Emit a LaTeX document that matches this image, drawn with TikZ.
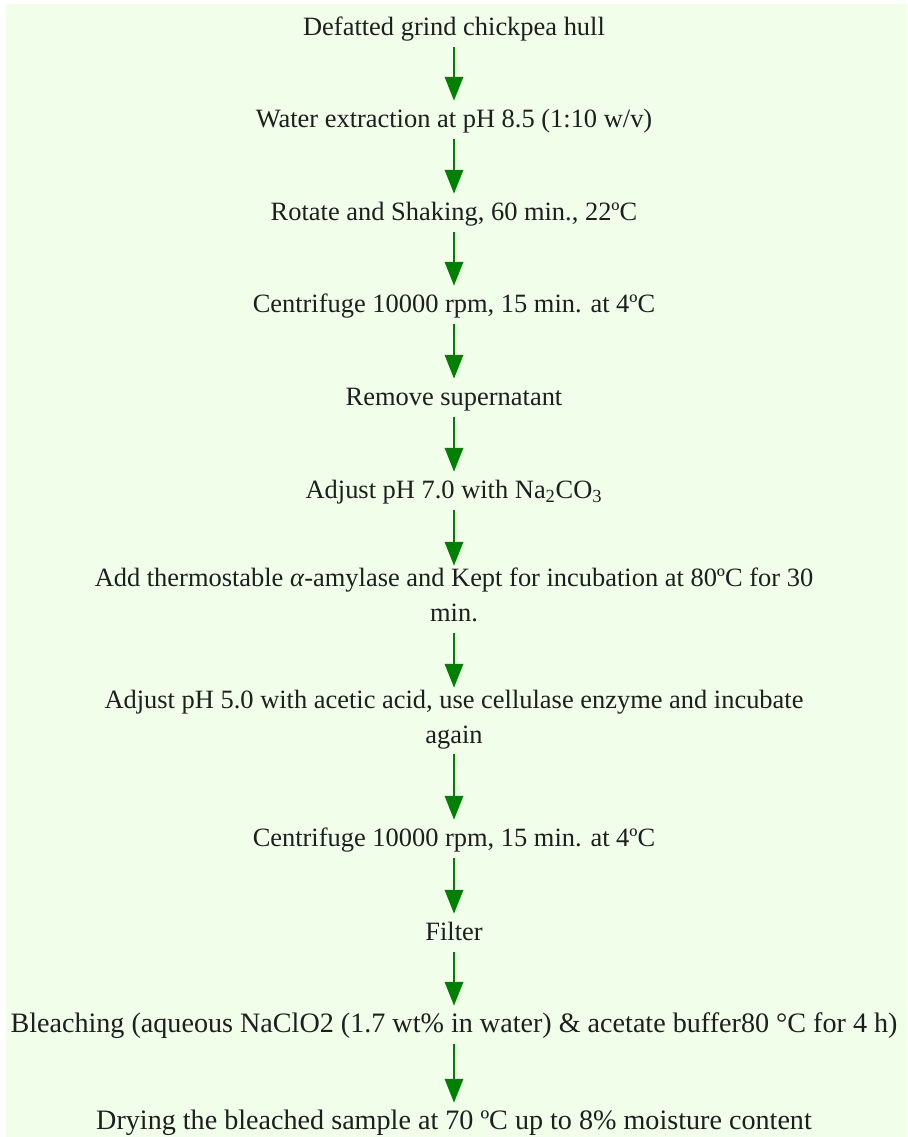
\documentclass[tikz,border=0pt]{standalone}
\usepackage{fontspec}
\setmainfont{Liberation Serif}
\usepackage{tikz}
\usetikzlibrary{arrows.meta,positioning}
\definecolor{bggreen}{RGB}{240,254,234}
\definecolor{flowgreen}{RGB}{0,128,0}
\definecolor{txtgray}{RGB}{30,30,30}

\begin{document}
\begin{tikzpicture}[x=0.025cm,y=-0.025cm,
    stepnode/.style={anchor=north, inner sep=0pt, align=center, text=txtgray,
      font=\fontsize{18.8}{24.9}\selectfont,
      execute at begin node=\strut, execute at end node=\strut},
    bigstep/.style={stepnode, font=\fontsize{20}{24.9}\selectfont},
    flow/.style={draw=flowgreen, line width=2.1pt,
      -{Triangle[width=12.8pt,length=17pt]}, flowgreen,
      shorten <=0.4pt, shorten >=1.2pt}]
  \useasboundingbox (0,0) rectangle (907,1137);
  \fill[bggreen] (6,4) rectangle (907,1137);

  \node[stepnode] (s1) at (454,10.5) {Defatted grind chickpea hull};
  \node[stepnode] (s2) at (454,102.5) {Water extraction at pH 8.5 (1:10 w/v)};
  \node[stepnode] (s3) at (454,195.5) {Rotate and Shaking, 60 min., 22ºC};
  \node[stepnode] (s4) at (454,287.5) {Centrifuge 10000 rpm, 15 min. at 4ºC};
  \node[stepnode] (s5) at (454,380.5) {Remove supernatant};
  \node[stepnode] (s6) at (454,473.5) {Adjust pH 7.0 with Na\textsubscript{2}CO\textsubscript{3}};
  \node[stepnode] (s7) at (454,567.5) {Add thermostable \textit{α}-amylase and Kept for incubation at 80ºC for 30\\min.};
  \node[stepnode] (s8) at (454,689.5) {Adjust pH 5.0 with acetic acid, use cellulase enzyme and incubate\\again};
  \node[stepnode] (s9) at (454,821.5) {Centrifuge 10000 rpm, 15 min. at 4ºC};
  \node[stepnode] (s10) at (454,915.5) {Filter};
  \node[bigstep] (s11) at (454,1007.5) {Bleaching (aqueous NaClO2 (1.7 wt\% in water) \& acetate buffer80 °C for 4 h)};
  \node[bigstep] (s12) at (454,1104.5) {Drying the bleached sample at 70 ºC up to 8\% moisture content};

  % arrows between the steps
  \foreach \a/\b in {s1/s2,s2/s3,s3/s4,s4/s5,s5/s6,s6/s7,s7/s8,s8/s9,s9/s10,s10/s11,s11/s12}
    \draw[flow] (\a.south) -- (\b.north);
\end{tikzpicture}
\end{document}
